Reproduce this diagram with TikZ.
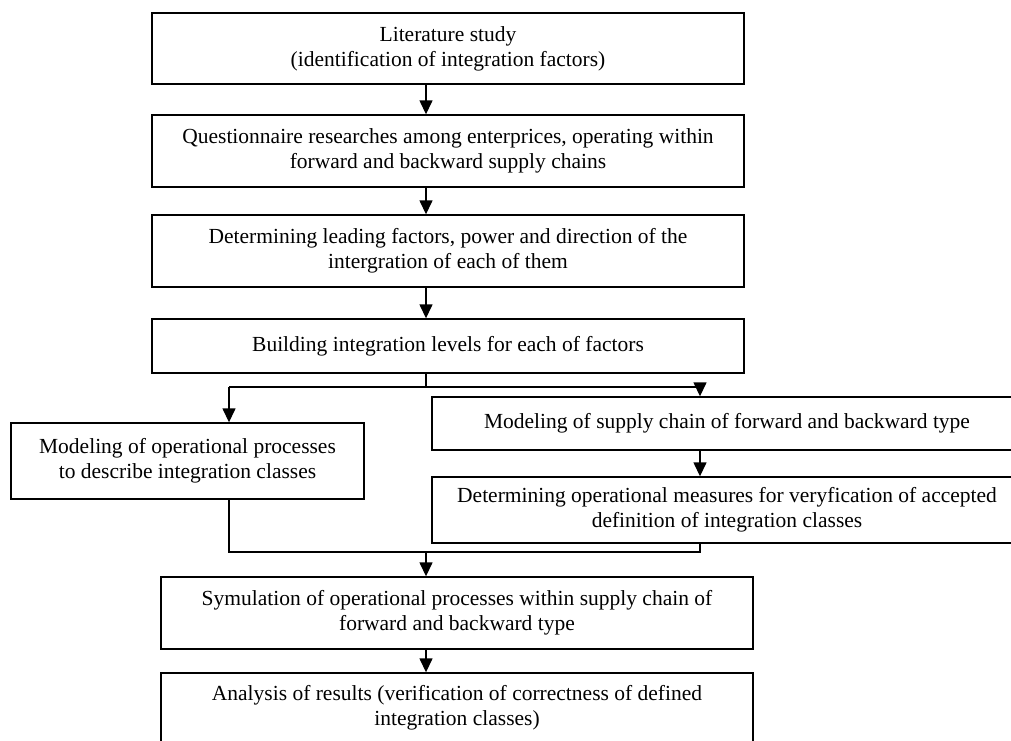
\documentclass[tikz,border=0pt]{standalone}
\usepackage{fontspec}
\setmainfont{Liberation Serif}
\usetikzlibrary{arrows.meta}
\begin{document}
\begin{tikzpicture}[x=1pt,y=-1pt,
  box/.style={draw=black, line width=1.4pt, fill=white, align=center, inner sep=0pt,
    font=\fontsize{21.5}{25}\selectfont},
  link/.style={draw=black, line width=1.4pt},
  arr/.style={link, -{Triangle[width=13pt,length=14pt]}}]
\useasboundingbox (0,0) rectangle (1011,740);
\clip (0,0) rectangle (1011,740);
\fill[white] (0,0) rectangle (1011,740);
% main column
\node[box, minimum width=592pt, minimum height=71pt] (b1) at (448,48.5)
  {Literature study\\(identification of integration factors)};
\node[box, minimum width=592pt, minimum height=72pt] (b2) at (448,151)
  {Questionnaire researches among enterprices, operating within\\forward and backward supply chains};
\node[box, minimum width=592pt, minimum height=72pt] (b3) at (448,251)
  {Determining leading factors, power and direction of the\\intergration of each of them};
\node[box, minimum width=592pt, minimum height=54pt] (b4) at (448,346)
  {Building integration levels for each of factors};
% branches
\node[box, minimum width=353pt, minimum height=76pt] (lm) at (187.5,461)
  {Modeling of operational processes\\to describe integration classes};
\node[box, minimum width=590pt, minimum height=53pt] (sc) at (727,423.5)
  {Modeling of supply chain of forward and backward type};
\node[box, minimum width=590pt, minimum height=66pt] (dm) at (727,510)
  {Determining operational measures for veryfication of accepted\\definition of integration classes};
% bottom
\node[box, minimum width=592pt, minimum height=72pt] (sim) at (457,613)
  {Symulation of operational processes within supply chain of\\forward and backward type};
\node[box, minimum width=592pt, minimum height=70pt] (an) at (457,708)
  {Analysis of results (verification of correctness of defined\\integration classes)};
% connector coordinates
\coordinate (ax) at (426,0);
\coordinate (jl) at (229,387);
\coordinate (jm) at (426,387);
\coordinate (jr) at (700,387);
\coordinate (ml) at (229,552);
\coordinate (mm) at (426,552);
\coordinate (mr) at (700,552);
% connectors
\draw[arr] (b1.south -| ax) -- (b2.north -| ax);
\draw[arr] (b2.south -| ax) -- (b3.north -| ax);
\draw[arr] (b3.south -| ax) -- (b4.north -| ax);
\draw[link] (b4.south -| ax) -- (jm);
\draw[link] (jl) -- (jr);
\draw[arr] (jl) -- (jl |- lm.north);
\draw[arr] (jr) -- (jr |- sc.north);
\draw[arr] (sc.south -| jr) -- (dm.north -| jr);
\draw[link] (lm.south -| ml) -- (ml) -- (mr) -- (dm.south -| mr);
\draw[arr] (mm) -- (sim.north -| mm);
\draw[arr] (sim.south -| ax) -- (an.north -| ax);
\end{tikzpicture}
\end{document}
